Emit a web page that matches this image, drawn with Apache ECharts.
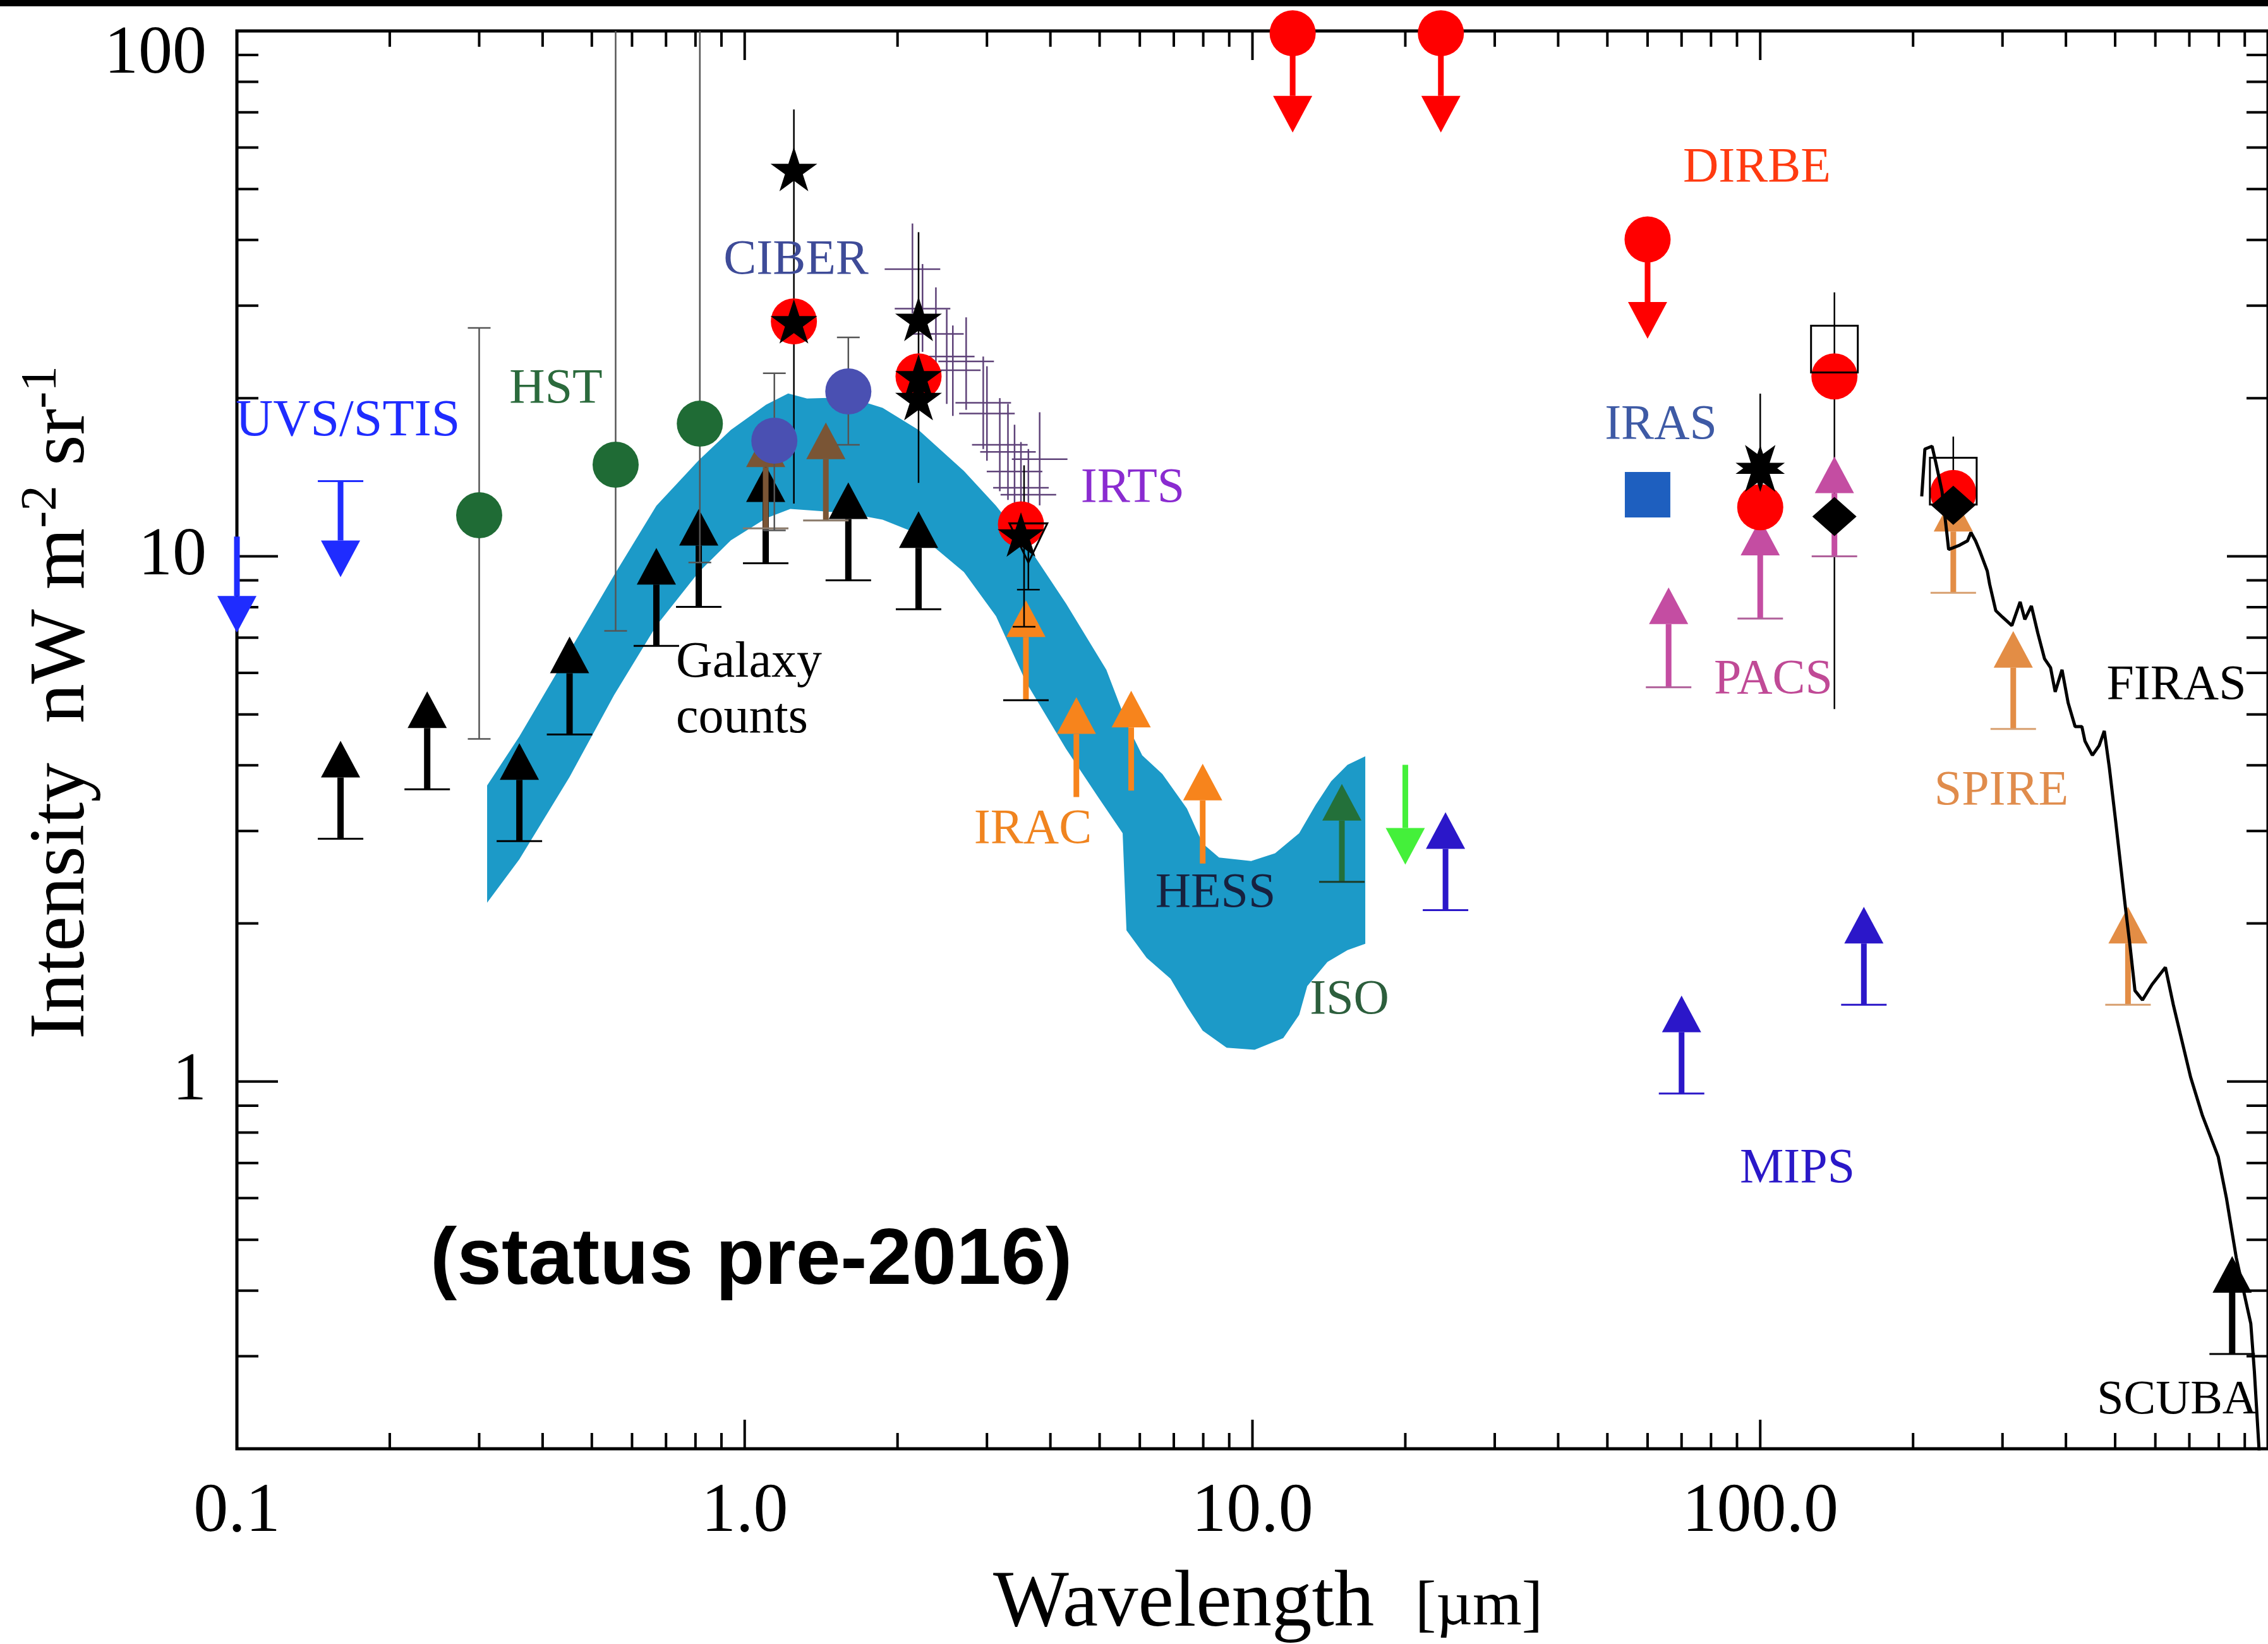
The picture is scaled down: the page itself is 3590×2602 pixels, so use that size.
<!DOCTYPE html>
<html>
<head>
<meta charset="utf-8">
<title>Extragalactic background light</title>
<script src="https://cdn.jsdelivr.net/npm/echarts@6/dist/echarts.min.js"></script>
<style>
  html, body { margin: 0; padding: 0; background: #ffffff; }
  #chart { width: 3590px; height: 2602px; }
</style>
</head>
<body>
<div id="chart"></div>
<script>
// ---------- axes ----------
const X_MIN = 0.1, X_MAX = 1000, Y_MIN = 0.2, Y_MAX = 100;
const xTickValues = [0.1, 1, 10, 100];
const xTickLabels = ['0.1', '1.0', '10.0', '100.0'];
const yTickValues = [1, 10, 100];
const yTickLabels = ['1', '10', '100'];
const xMajorTicks = [1, 10, 100];
const xMinorTicks = [0.2, 0.3, 0.4, 0.5, 0.6, 0.7, 0.8, 0.9, 2, 3, 4, 5, 6, 7, 8, 9,
                     20, 30, 40, 50, 60, 70, 80, 90, 200, 300, 400, 500, 600, 700, 800, 900];
const yMajorTicks = [1, 10];
const yMinorTicks = [0.3, 0.4, 0.5, 0.6, 0.7, 0.8, 0.9, 2, 3, 4, 5, 6, 7, 8, 9,
                     20, 30, 40, 50, 60, 70, 80, 90];

// ---------- EBL band (upper and lower envelope) ----------
const bandTopWave = [0.311, 0.360, 0.452, 0.553, 0.670, 0.812, 0.939, 1.102, 1.218, 1.327, 1.602, 1.869,
                     2.200, 2.703, 3.126, 3.585, 4.294, 5.155, 5.69, 6.066, 6.646, 7.43, 7.98, 8.595,
                     9.94, 11.08, 12.36, 13.31, 14.29, 15.39, 16.68];
const bandTopVal  = [3.66, 4.54, 6.60, 9.20, 12.48, 15.23, 17.40, 19.43, 20.42, 19.97, 20.08, 19.17,
                     17.40, 14.53, 12.48, 10.57, 8.13, 6.08, 4.74, 4.18, 3.85, 3.31, 2.84, 2.67,
                     2.63, 2.72, 2.97, 3.36, 3.73, 4.01, 4.16];
const bandBottomWave = [0.311, 0.360, 0.452, 0.553, 0.670, 0.812, 0.939, 1.102, 1.23, 1.40, 1.602, 1.869,
                        2.200, 2.703, 3.126, 3.585, 4.294, 4.966, 5.551, 5.648, 6.188, 6.897, 7.43, 7.98,
                        8.896, 10.1, 11.5, 12.36, 12.82, 14.05, 15.39, 16.68];
const bandBottomVal  = [2.19, 2.65, 3.80, 5.44, 7.38, 9.33, 10.72, 11.81, 12.31, 12.20, 12.07, 11.74,
                        11.02, 9.33, 7.69, 5.75, 4.30, 3.48, 2.97, 1.94, 1.72, 1.57, 1.39, 1.25,
                        1.16, 1.15, 1.21, 1.34, 1.52, 1.69, 1.78, 1.83];

// ---------- lower limits (arrows pointing up) ----------
const galaxyWave = [0.160, 0.237, 0.360, 0.452, 0.670, 0.812, 1.10, 1.60, 2.20];
const galaxyLow  = [2.90, 3.60, 2.87, 4.58, 6.75, 8.01, 9.70, 9.00, 7.93];
const nirLimitWave = [1.10, 1.445];
const nirLimitLow  = [11.3, 11.7];
const iracWave = [3.58, 4.50, 5.77, 7.98];
const iracLow  = [5.32, 3.48, 3.58, 2.60];
const isoWave = [15.0];
const isoLow  = [2.40];
const mir24Wave = [24.0];
const mir24Low  = [2.12];
const mipsWave = [70, 160];
const mipsLow  = [0.949, 1.40];
const pacsWave = [66, 100, 140];
const pacsLow  = [5.63, 7.61, 10.0];
const spireWave = [240, 315, 530];
const spireLow  = [8.52, 4.69, 1.40];
const scubaWave = [850];
const scubaLow  = [0.303];

// ---------- upper limits (arrows pointing down) ----------
const uvWave = [0.100, 0.160];
const uvHigh = [10.9, 13.9];
const midIrUpperWave = [20.0];
const midIrUpperVal  = [4.01];
const dirbeLimitWave = [12, 23.5, 60];
const dirbeLimitVal  = [99, 99, 40.1];

// ---------- measurements ----------
const hstWave = [0.300, 0.557, 0.816];
const hstVal  = [11.97, 14.94, 17.88];
const ciberWave = [1.144, 1.60];
const ciberVal  = [16.6, 20.6];
const dirbeWave = [1.25, 2.2, 3.5, 100, 140, 240];
const dirbeVal  = [28.0, 22.0, 11.5, 12.4, 22.0, 13.2];
const irasWave = [60];
const irasVal  = [13.1];
const starWave = [1.25, 1.25, 2.2, 2.2, 2.2, 3.5];
const starVal  = [54.6, 28.0, 28.3, 22.0, 20.0, 11.0];
const farIrStarWave = [100];
const farIrStarVal  = [14.7];
const diamondWave = [140, 240];
const diamondVal  = [11.9, 12.5];
const openSquareWave = [140, 240];
const openSquareVal  = [24.8, 13.9];
const openTriWave = [3.62];
const openTriVal  = [10.6];

// ---------- IRTS spectrum points ----------
const irtsWave = [2.14, 2.24, 2.38, 2.50, 2.57, 2.73, 2.95, 3.00, 3.18, 3.30, 3.40, 3.50, 3.62, 3.81];
const irtsVal  = [35.2, 29.6, 26.5, 24.0, 22.6, 23.5, 19.6, 18.7, 16.3, 15.8, 14.5, 13.5, 13.1, 15.3];
const irtsLow  = [29.0, 24.5, 21.5, 19.5, 18.5, 19.0, 16.0, 15.2, 13.3, 12.8, 11.8, 11.0, 10.7, 12.5];
const irtsHigh = [43.0, 36.0, 32.5, 29.5, 27.5, 28.5, 24.0, 23.0, 20.0, 19.5, 17.8, 16.5, 16.0, 18.8];

// ---------- error bars ----------
const optErrWave = [0.300, 0.557, 0.816, 1.144, 1.60];
const optErrLow  = [4.49, 7.21, 9.73, 11.2, 16.3];
const optErrHigh = [27.2, 100, 100, 22.3, 26.1];
const optErrCapLow  = [1, 1, 1, 1, 1];
const optErrCapHigh = [1, 0, 0, 1, 1];
const errWave = [1.25, 2.2, 3.55, 3.62, 100, 140, 240];
const errLow  = [12.6, 13.8, 7.34, 8.64, 12.4, 5.12, 12.0];
const errHigh = [70.9, 41.4, 14.9, 10.6, 20.4, 31.8, 16.9];
const errCapLow  = [0, 0, 1, 1, 0, 0, 0];
const errCapHigh = [0, 0, 0, 0, 0, 0, 0];

// ---------- FIRAS spectrum ----------
const firasWave = [208, 211, 218, 222, 228, 233, 235, 247, 256, 260, 265.5, 271, 280, 283, 291, 300, 313,
                   325, 332, 342, 352, 363, 373, 381, 393, 404, 417, 430, 436, 451, 465, 476, 487, 501,
                   524, 535, 547, 566, 591, 628, 651, 704, 743, 798, 828, 866, 894, 925, 940, 961];
const firasVal  = [13.0, 16.0, 16.2, 15.0, 13.3, 11.1, 10.3, 10.5, 10.7, 11.1, 10.7, 10.2, 9.37, 8.85, 7.88,
                   7.66, 7.38, 8.19, 7.58, 8.04, 7.15, 6.38, 6.14, 5.52, 6.08, 5.26, 4.74, 4.74, 4.45, 4.18,
                   4.36, 4.65, 3.96, 3.14, 2.14, 1.81, 1.49, 1.43, 1.53, 1.65, 1.40, 1.02, 0.861, 0.719,
                   0.601, 0.462, 0.402, 0.346, 0.281, 0.197];

// ---------- drawing helpers ----------
const SERIF = "'Liberation Serif', 'DejaVu Serif', serif";
const near = (a, b) => Math.abs(Math.log10(a) - Math.log10(b)) < 1e-6;
const STAR = 'path://M50,0L61.2,34.5L97.6,34.5L68.2,55.9L79.4,90.5L50,69.1L20.6,90.5L31.8,55.9L2.4,34.5L38.8,34.5Z';

// Limit arrows: dir = 1 points up (lower limit), -1 points down (upper limit).
function limitArrows(wave, value, opt) {
  const caps = opt.caps || wave.map(() => (opt.cap ? 1 : 0));
  return {
    type: 'custom', clip: false, silent: true,
    data: wave.map((w, i) => [w, value[i], caps[i]]),
    encode: { x: 0, y: 1 },
    renderItem(params, api) {
      const p = api.coord([api.value(0), api.value(1)]);
      const dir = opt.dir;
      const L = opt.len || 155, hh = opt.headH || 58, hw = (opt.headW || 62) / 2, sw = opt.shaft || 9;
      const tip = p[1] - dir * L;
      const base = tip + dir * hh;
      const children = [
        { type: 'rect', shape: { x: p[0] - sw / 2, y: Math.min(p[1], base), width: sw, height: Math.abs(base - p[1]) },
          style: { fill: opt.color } },
        { type: 'polygon', shape: { points: [[p[0], tip], [p[0] - hw, base], [p[0] + hw, base]] },
          style: { fill: opt.color } }
      ];
      if (api.value(2)) {
        children.push({ type: 'line', shape: { x1: p[0] - 36, y1: p[1], x2: p[0] + 36, y2: p[1] },
          style: { stroke: opt.capColor || opt.color, lineWidth: 3 } });
      }
      return { type: 'group', children };
    }
  };
}

function errorBars(wave, low, high, capLow, capHigh, color, capHalf) {
  return {
    type: 'custom', clip: false, silent: true,
    data: wave.map((w, i) => [w, low[i], high[i], capLow[i], capHigh[i]]),
    encode: { x: 0, y: [1, 2] },
    renderItem(params, api) {
      const x = api.value(0);
      const a = api.coord([x, api.value(1)]);
      const b = api.coord([x, api.value(2)]);
      const st = { stroke: color, lineWidth: 2.5 };
      const ch = [{ type: 'line', shape: { x1: a[0], y1: a[1], x2: b[0], y2: b[1] }, style: st }];
      if (api.value(3)) ch.push({ type: 'line', shape: { x1: a[0] - capHalf, y1: a[1], x2: a[0] + capHalf, y2: a[1] }, style: st });
      if (api.value(4)) ch.push({ type: 'line', shape: { x1: b[0] - capHalf, y1: b[1], x2: b[0] + capHalf, y2: b[1] }, style: st });
      return { type: 'group', children: ch };
    }
  };
}

function markers(wave, value, symbol, size, itemStyle, extra) {
  return Object.assign({
    type: 'scatter', silent: true, clip: false,
    data: wave.map((w, i) => [w, value[i]]),
    symbol, symbolSize: size, itemStyle: Object.assign({ opacity: 1 }, itemStyle)
  }, extra || {});
}

// Tick marks on all four sides of the frame
const tickData = [].concat(
  xMajorTicks.map(v => [v, 1, 1]),
  xMinorTicks.map(v => [v, 1, 0]),
  yMajorTicks.map(v => [1, v, 3]),
  yMinorTicks.map(v => [1, v, 2])
);
const tickSeries = {
  type: 'custom', clip: false, silent: true, data: tickData, encode: { x: 0, y: 1 },
  renderItem(params, api) {
    const kind = api.value(2);
    const st = { stroke: '#000', lineWidth: 4 };
    if (kind < 2) {
      const v = api.value(0);
      const b = api.coord([v, Y_MIN]), t = api.coord([v, Y_MAX]);
      const len = kind === 1 ? 46 : 25;
      return { type: 'group', children: [
        { type: 'line', shape: { x1: b[0], y1: b[1], x2: b[0], y2: b[1] - len }, style: st },
        { type: 'line', shape: { x1: t[0], y1: t[1], x2: t[0], y2: t[1] + len }, style: st }
      ] };
    }
    const v = api.value(1);
    const l = api.coord([X_MIN, v]), r = api.coord([X_MAX, v]);
    const len = kind === 3 ? 65 : 34;
    return { type: 'group', children: [
      { type: 'line', shape: { x1: l[0], y1: l[1], x2: l[0] + len, y2: l[1] }, style: st },
      { type: 'line', shape: { x1: r[0], y1: r[1], x2: r[0] - len, y2: r[1] }, style: st }
    ] };
  }
};

// EBL band polygon
const bandSeries = {
  type: 'custom', clip: true, silent: true,
  data: [[bandTopWave[0], bandTopVal[0]]], encode: { x: 0, y: 1 },
  renderItem(params, api) {
    const pts = [];
    bandTopWave.forEach((w, i) => pts.push(api.coord([w, bandTopVal[i]])));
    for (let i = bandBottomWave.length - 1; i >= 0; i--) pts.push(api.coord([bandBottomWave[i], bandBottomVal[i]]));
    return { type: 'polygon', shape: { points: pts, smooth: 0 }, style: { fill: '#1c9ac8' } };
  }
};

// IRTS crosses
const irtsSeries = {
  type: 'custom', clip: false, silent: true,
  data: irtsWave.map((w, i) => [w, irtsVal[i], irtsLow[i], irtsHigh[i]]),
  encode: { x: 0, y: 1 },
  renderItem(params, api) {
    const x = api.value(0);
    const c = api.coord([x, api.value(1)]);
    const lo = api.coord([x, api.value(2)]), hi = api.coord([x, api.value(3)]);
    const st = { stroke: '#5e4278', lineWidth: 2.5 };
    return { type: 'group', children: [
      { type: 'line', shape: { x1: c[0] - 44, y1: c[1], x2: c[0] + 44, y2: c[1] }, style: st },
      { type: 'line', shape: { x1: lo[0], y1: lo[1], x2: hi[0], y2: hi[1] }, style: st }
    ] };
  }
};

// ---------- text annotations ----------
const notes = [
  { t: 'UVS/STIS', x: 373, y: 667, c: '#1f2cff', a: 'left', s: 82 },
  { t: 'HST', x: 880, y: 617, c: '#2b6a3c' },
  { t: 'CIBER', x: 1260, y: 413, c: '#3e4b98' },
  { t: 'IRTS', x: 1793, y: 774, c: '#8a2bd0' },
  { t: 'Galaxy', x: 1070, y: 1050, c: '#000', a: 'left', s: 80 },
  { t: 'counts', x: 1070, y: 1138, c: '#000', a: 'left', s: 80 },
  { t: 'IRAC', x: 1635, y: 1314, c: '#f0841f' },
  { t: 'HESS', x: 1924, y: 1415, c: '#17213f' },
  { t: 'ISO', x: 2136, y: 1584, c: '#2c5e3c' },
  { t: 'DIRBE', x: 2781, y: 267, c: '#ff3a10' },
  { t: 'IRAS', x: 2629, y: 674, c: '#3e5aa5' },
  { t: 'PACS', x: 2807, y: 1077, c: '#c04a96' },
  { t: 'FIRAS', x: 3445, y: 1086, c: '#000' },
  { t: 'SPIRE', x: 3168, y: 1253, c: '#e08c4c' },
  { t: 'MIPS', x: 2845, y: 1851, c: '#2a18c8' },
  { t: 'SCUBA', x: 3446, y: 2217, c: '#000', s: 76 }
];
const graphics = [
  { type: 'rect', shape: { x: 0, y: 0, width: 3590, height: 10 }, style: { fill: '#000' }, silent: true }
].concat(notes.map(n => ({
  type: 'text', x: n.x, y: n.y, silent: true, z: 100,
  style: { text: n.t, fill: n.c, font: `${n.s || 78}px ${SERIF}`, textAlign: n.a || 'center', textVerticalAlign: 'middle' }
}))).concat([
  { type: 'text', x: 681, y: 1997, silent: true, z: 100,
    style: { text: '(status pre-2016)', fill: '#000', font: "bold 127px 'Liberation Sans', Arial, sans-serif",
             textAlign: 'left', textVerticalAlign: 'middle' } },
  { type: 'text', x: 1572, y: 2540, silent: true, z: 100,
    style: { text: 'Wavelength', fill: '#000', font: `127px ${SERIF}`, textAlign: 'left', textVerticalAlign: 'middle' } },
  { type: 'text', x: 2240, y: 2545, silent: true, z: 100,
    style: { text: '[µm]', fill: '#000', font: `100px ${SERIF}`, textAlign: 'left', textVerticalAlign: 'middle' } },
  { type: 'text', x: 99, y: 1112, rotation: Math.PI / 2, silent: true, z: 100,
    style: { text: '{m|Intensity  nW m}{s|-2}{m| sr}{s|-1}', textAlign: 'center', textVerticalAlign: 'middle',
             rich: { m: { fontSize: 125, fontFamily: SERIF, fill: '#000', lineHeight: 146 },
                     s: { fontSize: 81, fontFamily: SERIF, fill: '#000', lineHeight: 83, verticalAlign: 'top' } } } }
]);

// ---------- chart ----------
const chart = echarts.init(document.getElementById('chart'), null, { renderer: 'canvas' });
chart.setOption({
  animation: false,
  backgroundColor: '#ffffff',
  textStyle: { fontFamily: SERIF },
  grid: { left: 375, right: -9, top: 49, bottom: 309, show: true, borderColor: '#000', borderWidth: 5 },
  xAxis: {
    type: 'log', logBase: 10, min: X_MIN, max: X_MAX,
    axisLine: { show: false }, axisTick: { show: false }, splitLine: { show: false }, minorTick: { show: false },
    axisLabel: {
      margin: 46, fontSize: 110, color: '#000', fontFamily: SERIF, showMinLabel: true, showMaxLabel: false,
      formatter: v => { const i = xTickValues.findIndex(t => near(t, v)); return i < 0 ? '' : xTickLabels[i]; }
    }
  },
  yAxis: {
    type: 'log', logBase: 10, min: Y_MIN, max: Y_MAX,
    axisLine: { show: false }, axisTick: { show: false }, splitLine: { show: false }, minorTick: { show: false },
    axisLabel: {
      margin: 48, fontSize: 108, color: '#000', fontFamily: SERIF, showMinLabel: false, showMaxLabel: true,
      formatter: v => {
        const i = yTickValues.findIndex(t => near(t, v));
        if (i < 0) return '';
        return near(v, Y_MAX) ? '{top|' + yTickLabels[i] + '}' : yTickLabels[i];
      },
      rich: { top: { fontSize: 108, fontFamily: SERIF, color: '#000', padding: [76, 0, 0, 0] } }
    }
  },
  graphic: graphics,
  series: [
    bandSeries,
    tickSeries,
    irtsSeries,
    limitArrows(galaxyWave, galaxyLow, { dir: 1, color: '#000', cap: true, shaft: 10 }),
    limitArrows(nirLimitWave, nirLimitLow, { dir: 1, color: '#7a5535', cap: true, capColor: '#8a7a6a' }),
    limitArrows(uvWave, uvHigh, { dir: -1, color: '#1f2cff', caps: [0, 1], len: 152 }),
    limitArrows(iracWave, iracLow, { dir: 1, color: '#f7841c', caps: [1, 0, 0, 0], capColor: '#000', len: 158 }),
    limitArrows(isoWave, isoLow, { dir: 1, color: '#23703a', cap: true, capColor: '#1d3d28' }),
    limitArrows(midIrUpperWave, midIrUpperVal, { dir: -1, color: '#44f03a', len: 158 }),
    limitArrows(mir24Wave, mir24Low, { dir: 1, color: '#2b17c9', cap: true }),
    limitArrows(mipsWave, mipsLow, { dir: 1, color: '#2b17c9', cap: true }),
    limitArrows(scubaWave, scubaLow, { dir: 1, color: '#000', cap: true, shaft: 10 }),
    limitArrows(dirbeLimitWave, dirbeLimitVal, { dir: -1, color: '#ff0000', len: 157 }),
    markers(hstWave, hstVal, 'circle', 73, { color: '#1f6b35' }),
    markers(ciberWave, ciberVal, 'circle', 73, { color: '#4a50b2' }),
    markers(irasWave, irasVal, 'rect', 72, { color: '#1e5fbf' }),
    markers(dirbeWave, dirbeVal, 'circle', 73, { color: '#ff0000' }),
    markers(dirbeLimitWave, dirbeLimitVal, 'circle', 73, { color: '#ff0000' }),
    markers(diamondWave, diamondVal, 'diamond', [70, 62], { color: '#000' }),
    markers(openSquareWave, openSquareVal, 'rect', 74, { color: 'rgba(255,255,255,0)', borderColor: '#000', borderWidth: 3 }),
    markers(openTriWave, openTriVal, 'triangle', [60, 62], { color: 'rgba(255,255,255,0)', borderColor: '#000', borderWidth: 3 }, { symbolRotate: 180 }),
    markers(starWave, starVal, STAR, 74, { color: '#000' }, { symbolKeepAspect: true }),
    markers(farIrStarWave, farIrStarVal, STAR, 78, { color: '#000' }, { symbolKeepAspect: true }),
    markers(farIrStarWave, farIrStarVal, STAR, 78, { color: '#000' }, { symbolKeepAspect: true, symbolRotate: 180 }),
    errorBars(optErrWave, optErrLow, optErrHigh, optErrCapLow, optErrCapHigh, '#555555', 18),
    errorBars(errWave, errLow, errHigh, errCapLow, errCapHigh, '#000000', 18),
    limitArrows(pacsWave, pacsLow, { dir: 1, color: '#c44da2', cap: true, capColor: '#b0609a', len: 158 }),
    limitArrows(spireWave, spireLow, { dir: 1, color: '#e38d45', cap: true, capColor: '#d8a070' }),
    {
      type: 'line', silent: true, showSymbol: false, clip: true,
      data: firasWave.map((w, i) => [w, firasVal[i]]),
      lineStyle: { color: '#000', width: 5 }
    }
  ]
});
</script>
</body>
</html>
